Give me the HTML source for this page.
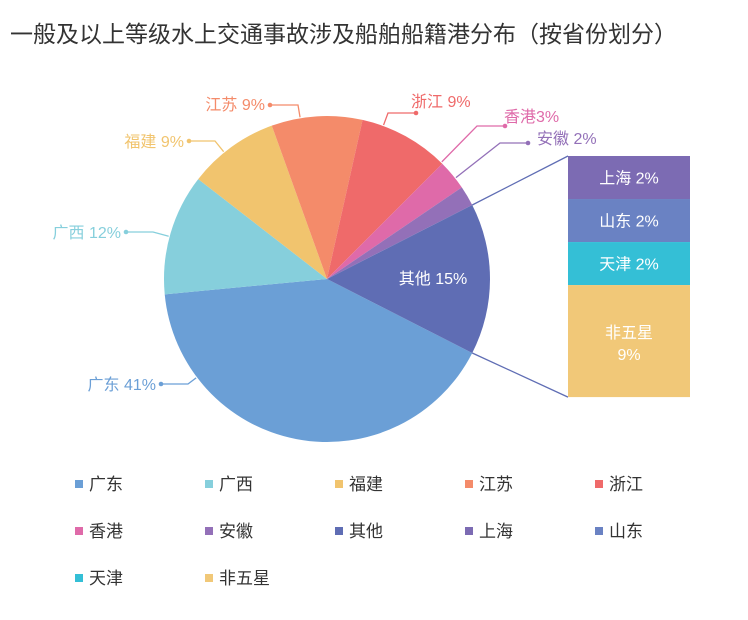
<!DOCTYPE html>
<html><head><meta charset="utf-8"><style>
body{margin:0;background:#fff;}
svg text{font-family:"Liberation Sans","Noto Sans CJK SC",sans-serif;}
</style></head><body>
<svg id="chart" width="748" height="615" viewBox="0 0 748 615">
<text x="10" y="42" font-size="23" fill="#333">一般及以上等级水上交通事故涉及船舶船籍港分布（按省份划分）</text>
<g id="pie"></g><g id="bar"></g><g id="legend"></g>
</svg>
<script>
const categories=["广东","广西","福建","江苏","浙江","香港","安徽","其他"];
const values=[41,12,9,9,9,3,2,15];
const labels=["广东 41%","广西 12%","福建 9%","江苏 9%","浙江 9%","香港3%","安徽 2%","其他 15%"];
const colors=["#6b9fd6","#86cfdc","#f1c46e","#f48b6a","#ef6a6a","#df6aa9","#9370b8","#5f6db4"];
const subCategories=["上海","山东","天津","非五星"];
const subValues=[2,2,2,9];
const subLabels=["上海 2%","山东 2%","天津 2%","非五星 9%"];
const subColors=["#7c6bb3","#6a82c3","#34bfd6","#f1c878"];
const legendNames=["广东","广西","福建","江苏","浙江","香港","安徽","其他","上海","山东","天津","非五星"];
const legendColors=["#6b9fd6","#86cfdc","#f1c46e","#f48b6a","#ef6a6a","#df6aa9","#9370b8","#5f6db4","#7c6bb3","#6a82c3","#34bfd6","#f1c878"];
const NS="http://www.w3.org/2000/svg";
function mk(t,a,p){const e=document.createElementNS(NS,t);for(const k in a)e.setAttribute(k,a[k]);p.appendChild(e);return e;}
const cx=327,cy=279,R=163,start=117;
function pt(deg,r){const a=(deg-90)*Math.PI/180;return [cx+r*Math.cos(a),cy+r*Math.sin(a)];}
const pie=document.getElementById('pie');
const total=values.reduce((a,b)=>a+b,0);
let ang=start;const mids=[];let otherStart=0,otherEnd=0;
values.forEach((v,i)=>{
  const sw=v/total*360;const a0=ang,a1=ang+sw;
  const p0=pt(a0,R),p1=pt(a1,R);
  const path=mk('path',{d:`M${cx},${cy}L${p0[0]},${p0[1]}A${R},${R} 0 ${sw>180?1:0} 1 ${p1[0]},${p1[1]}Z`,fill:colors[i]},pie);
  
  
  mids.push((a0+a1)/2);
  if(i===values.length-1){otherStart=a0;otherEnd=a1;}
  ang=a1;
});
const lp=[[161,384,188,156,389,'end'],[126,232,153,121,237,'end'],[189,141,215,184,146,'end'],[270,105,298,265,109,'end'],
          [416,113,388,411,106,'start'],[505,126,477,504,121,'start'],[528,143,500,537,143,'start']];
lp.forEach((l,i)=>{
  const dx=l[2]-cx,dy=l[1]-cy;const d=Math.hypot(dx,dy);
  const e=[cx+dx/d*(R+1),cy+dy/d*(R+1)];
  const ln=mk('polyline',{points:`${e[0]},${e[1]} ${l[2]},${l[1]} ${l[0]},${l[1]}`,fill:'none',stroke:colors[i],'stroke-width':1.3},pie);
  
  
  mk('circle',{cx:l[0],cy:l[1],r:2.3,fill:colors[i]},pie);
  const t=mk('text',{x:l[3],y:l[4]+1,'font-size':16,fill:colors[i],'text-anchor':l[5]},pie);
  t.textContent=labels[i];
  
  
});
const ot=mk('text',{x:433,y:284,'font-size':16,fill:'#fff','text-anchor':'middle'},pie);
ot.textContent=labels[7];


const bar=document.getElementById('bar');
const bx=568,bw=122,by=156;
const hs=subValues.map(v=>23.3+9.86*v);
const pA=pt(otherStart,R),pB=pt(otherEnd,R);
const bh=hs.reduce((a,b)=>a+b,0);
let l1=mk('line',{x1:pA[0],y1:pA[1],x2:bx,y2:by,stroke:'#5f6db4','stroke-width':1.3},bar);

let l2=mk('line',{x1:pB[0],y1:pB[1],x2:bx,y2:by+bh,stroke:'#5f6db4','stroke-width':1.3},bar);

let y=by;
subValues.forEach((v,i)=>{
  const r=mk('rect',{x:bx,y:y,width:bw,height:hs[i],fill:subColors[i]},bar);
  
  
  const parts=subLabels[i].split(' ');
  if(i===3){
    const t1=mk('text',{x:bx+bw/2,y:y+hs[i]/2-3,'font-size':16,fill:'#fff','text-anchor':'middle'},bar);t1.textContent=parts[0];
    
    const t2=mk('text',{x:bx+bw/2,y:y+hs[i]/2+19,'font-size':16,fill:'#fff','text-anchor':'middle'},bar);t2.textContent=parts[1];
    
  } else {
    const t=mk('text',{x:bx+bw/2,y:y+hs[i]/2+6,'font-size':16,fill:'#fff','text-anchor':'middle'},bar);t.textContent=subLabels[i];
    
  }
  y+=hs[i];
});
const lg=document.getElementById('legend');
legendNames.forEach((n,i)=>{
  const c=i%5,rw=Math.floor(i/5);
  const x=75+c*130,yy=484+rw*47;
  const g=mk('g',{},lg);
  
  
  mk('rect',{x:x,y:yy-4,width:8,height:8,fill:legendColors[i]},g);
  const t=mk('text',{x:x+14,y:yy+6,'font-size':17,fill:'#333'},g);t.textContent=n;
});
</script>
</body></html>
